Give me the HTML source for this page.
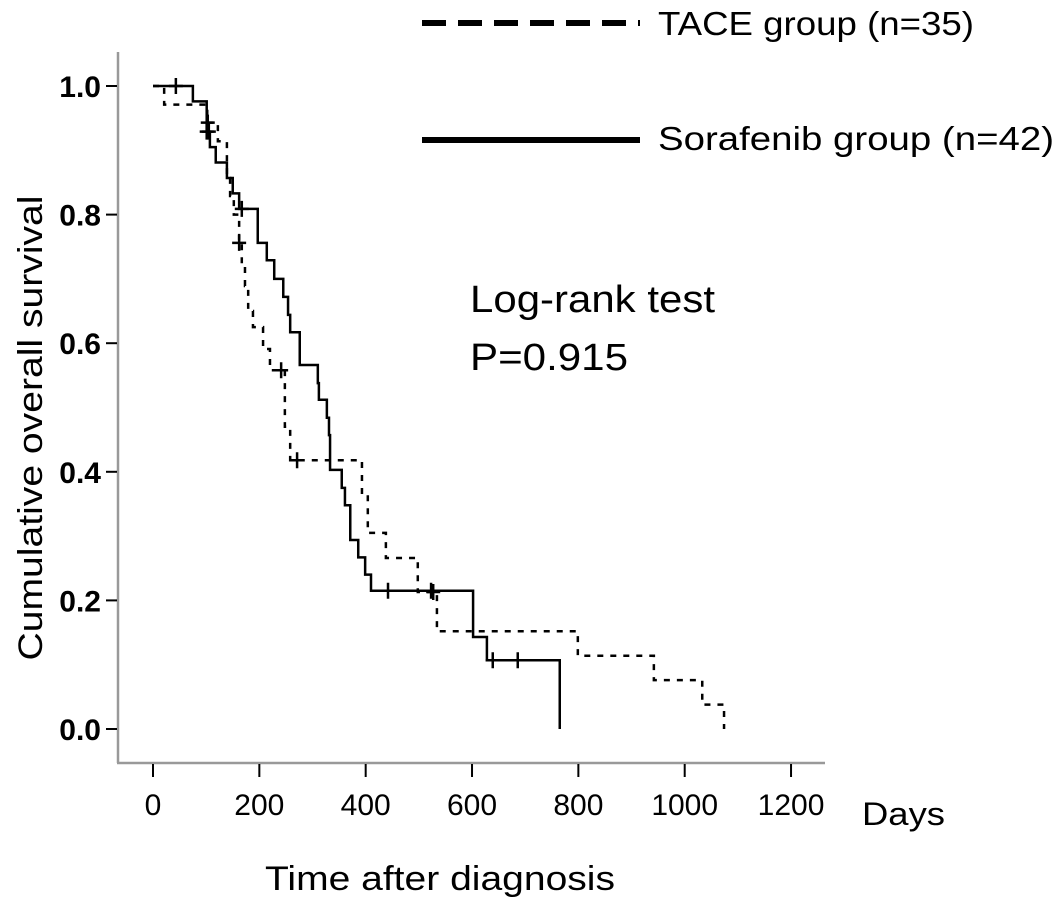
<!DOCTYPE html>
<html><head><meta charset="utf-8"><style>
html,body{margin:0;padding:0;background:#fff;width:1063px;height:907px;overflow:hidden}
svg text{font-family:"Liberation Sans",sans-serif;fill:#000}
</style></head><body>
<svg id="chart" width="1063" height="907" viewBox="0 0 1063 907" xmlns="http://www.w3.org/2000/svg">
<g id="axes"></g>
<g id="curves"></g>
<g>
  <line x1="422" y1="23" x2="640" y2="23" stroke="#000" stroke-width="6" stroke-dasharray="24,12"/>
  <text x="658" y="35" font-size="33" textLength="316" lengthAdjust="spacingAndGlyphs">TACE group (n=35)</text>
  <line x1="422" y1="140" x2="640" y2="140" stroke="#000" stroke-width="6"/>
  <text x="658" y="150" font-size="33" textLength="396" lengthAdjust="spacingAndGlyphs">Sorafenib group (n=42)</text>
</g>
<text x="470" y="312" font-size="38" textLength="245" lengthAdjust="spacingAndGlyphs">Log-rank test</text>
<text x="470" y="370" font-size="38" textLength="158" lengthAdjust="spacingAndGlyphs">P=0.915</text>
<text x="862" y="825" font-size="32" textLength="83" lengthAdjust="spacingAndGlyphs">Days</text>
<text x="265" y="890" font-size="34" textLength="350" lengthAdjust="spacingAndGlyphs">Time after diagnosis</text>
<text x="0" y="0" font-size="34" text-anchor="middle" textLength="465" lengthAdjust="spacingAndGlyphs" transform="translate(42,428) rotate(-90)">Cumulative overall survival</text>
</svg>
<script>
const xTicks=[0,200,400,600,800,1000,1200];
const yTicks=[0.0,0.2,0.4,0.6,0.8,1.0];
const yTickLabels=["0.0","0.2","0.4","0.6","0.8","1.0"];
const sorafenibTimes=[75,101,107,118,139,150,162,197,214,228,245,254,258,276,310,312,327,331,333,355,361,371,386,399,410,602,628,765];
const sorafenibSurv=[0.976,0.929,0.905,0.881,0.857,0.833,0.809,0.756,0.729,0.700,0.672,0.644,0.617,0.566,0.538,0.512,0.484,0.457,0.403,0.375,0.348,0.294,0.267,0.240,0.215,0.143,0.107,0.0];
const sorafenibCensorT=[43,101,105,167,442,523,639,686];
const taceTimes=[21,102,122,139,145,152,162,167,173,179,188,207,220,248,258,393,404,438,498,534,799,942,1033,1074];
const taceSurv=[0.971,0.943,0.914,0.857,0.829,0.800,0.756,0.720,0.689,0.650,0.625,0.591,0.558,0.470,0.418,0.364,0.305,0.266,0.213,0.152,0.114,0.076,0.038,0.0];
const taceCensorT=[103,162,241,271,527];

const X=d=>153+d*0.5317, Y=s=>729-s*643;
const NS="http://www.w3.org/2000/svg";
function mk(tag,attrs,parent){const e=document.createElementNS(NS,tag);for(const k in attrs)e.setAttribute(k,attrs[k]);parent.appendChild(e);return e;}
const axes=document.getElementById('axes'), curves=document.getElementById('curves');
let e=mk('line',{x1:118,y1:52,x2:118,y2:763,stroke:'#999','stroke-width':2.5},axes);


e=mk('line',{x1:117,y1:763,x2:825,y2:763,stroke:'#999','stroke-width':2.5},axes);


yTicks.forEach((v,i)=>{
  let t=mk('line',{x1:106,y1:Y(v),x2:117,y2:Y(v),stroke:'#000','stroke-width':2},axes);
  
  
  let l=mk('text',{x:101,y:Y(v)+11,'font-size':30,'font-weight':'bold','text-anchor':'end'},axes);
  l.textContent=yTickLabels[i];
  
  
});
xTicks.forEach(v=>{
  let t=mk('line',{x1:X(v),y1:764,x2:X(v),y2:777,stroke:'#000','stroke-width':2},axes);
  
  
  let l=mk('text',{x:X(v),y:815,'font-size':30,'text-anchor':'middle'},axes);
  l.textContent=String(v);
  
  
});
function stepPath(times,surv){
  let d=`M${X(0)},${Y(1)}`;
  times.forEach((t,i)=>{d+=` H${X(t)} V${Y(surv[i])}`;});
  return d;
}
function survAt(times,surv,t){let s=1;for(let i=0;i<times.length;i++){if(times[i]<=t)s=surv[i];}return s;}
let p=mk('path',{d:stepPath(taceTimes,taceSurv),fill:'none',stroke:'#000','stroke-width':2.5,'stroke-dasharray':'6,7'},curves);


p=mk('path',{d:stepPath(sorafenibTimes,sorafenibSurv),fill:'none',stroke:'#000','stroke-width':2.5},curves);


function censor(t,s,name){
  const cx=X(t),cy=Y(s);
  let g=mk('path',{d:`M${cx-7},${cy} H${cx+7} M${cx},${cy-8} V${cy+8}`,stroke:'#000','stroke-width':2.5,fill:'none'},curves);
  
  
}
taceCensorT.forEach(t=>censor(t,survAt(taceTimes,taceSurv,t),'tace-censor-mark'));
sorafenibCensorT.forEach(t=>censor(t,survAt(sorafenibTimes,sorafenibSurv,t),'sorafenib-censor-mark'));
</script>
</body></html>
